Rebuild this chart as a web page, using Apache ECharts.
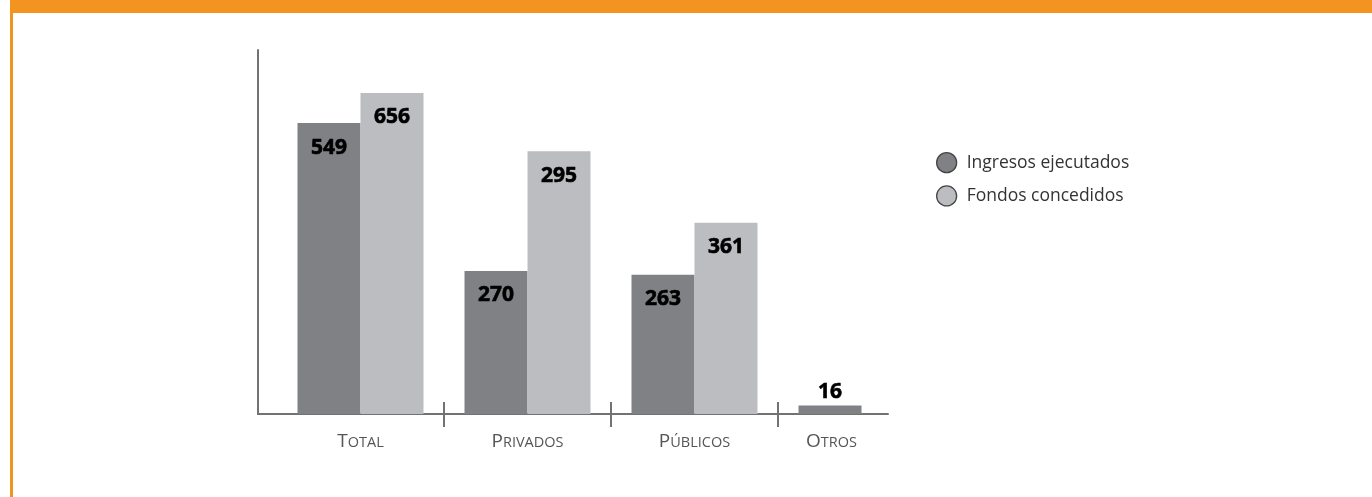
<!DOCTYPE html>
<html>
<head>
<meta charset="utf-8">
<script src="https://cdn.jsdelivr.net/npm/echarts@6/dist/echarts.min.js"></script>
<style>
  html, body { margin: 0; padding: 0; background: #fff; }
  #frame { position: absolute; left: 10px; top: 0; width: 1359px; height: 484px;
           border-top: 13px solid #f39320; border-left: 3px solid #f39320; }
  #chart { position: absolute; left: 0; top: 0; width: 1372px; height: 497px; }
</style>
</head>
<body>
<div id="frame"></div>
<div id="chart"></div>
<script>
// ---- data ----
const categories = ['Total', 'Privados', 'Públicos', 'Otros'];
const seriesNames = ['Ingresos ejecutados', 'Fondos concedidos'];
// printed values (labels)
const ingresosLabels = [549, 270, 263, 16];
const fondosLabels = [656, 295, 361, null];
// bar lengths as drawn in the reference
const ingresosBars = [549, 270, 263, 16];
const fondosBars = [606, 496, 361, null];
const yMax = 687;

// ---- layout ----
const gridLeft = 277, bandW = 167, nCat = categories.length;
const gridTop = 50, baseY = 414;
const axisStart = 258, axisEnd = 888;
const tickPos = [];
for (let k = 1; k < nCat; k++) tickPos.push(gridLeft + k * bandW - axisStart);

const darkC = '#808185', lightC = '#bcbdc1', axisC = '#727272';

const chart = echarts.init(document.getElementById('chart'), null, { renderer: 'canvas' });

function mkData(bars) {
  return bars.map(v => {
    if (v === null) return null;
    if (v < 100) return { value: v, label: { position: 'top', distance: 3 } };
    return v;
  });
}

const labelStyle = (arr) => ({
  show: true,
  position: 'insideTop',
  distance: 14,
  fontFamily: 'Open Sans',
  fontWeight: 'bold',
  fontSize: 21,
  color: '#000',
  textBorderColor: '#000',
  textBorderWidth: 0.6,
  formatter: p => arr[p.dataIndex]
});

chart.setOption({
  animation: false,
  textStyle: { fontFamily: 'Open Sans' },
  grid: [
    { left: gridLeft, width: bandW * nCat, top: gridTop, height: baseY - gridTop },
    { left: axisStart, width: axisEnd - axisStart, top: gridTop, height: baseY - gridTop }
  ],
  legend: {
    orient: 'vertical',
    left: 931, top: 147,
    itemWidth: 20, itemHeight: 20, itemGap: 12,
    icon: 'circle',
    data: seriesNames,
    itemStyle: { borderColor: '#444', borderWidth: 1.3 },
    textStyle: { fontFamily: 'Open Sans', fontSize: 17.5, color: '#333', padding: [0, 0, 0, 5] }
  },
  xAxis: [
    {
      type: 'category', gridIndex: 0,
      data: categories.map((c, i) => i === nCat - 1 ? { value: c, textStyle: { padding: [0, 60, 0, 0] } } : c),
      axisLine: { show: false }, axisTick: { show: false },
      axisLabel: {
        margin: 18,
        formatter: v => '{b|' + v.charAt(0).toUpperCase() + '}{s|' + v.slice(1).toUpperCase() + '}',
        rich: {
          b: { fontFamily: 'Open Sans', fontSize: 19, color: '#555', verticalAlign: 'bottom' },
          s: { fontFamily: 'Open Sans', fontSize: 14.5, color: '#555', verticalAlign: 'bottom', padding: [0, 0, 1, 0] }
        }
      }
    },
    {
      type: 'value', gridIndex: 1, position: 'bottom', min: 0, max: axisEnd - axisStart,
      axisLine: { show: true, lineStyle: { color: axisC, width: 2 } },
      axisTick: { show: true, customValues: tickPos, length: 13, lineStyle: { color: axisC, width: 2 } },
      axisLabel: { show: false }, splitLine: { show: false }
    },
    {
      type: 'value', gridIndex: 1, position: 'bottom', min: 0, max: axisEnd - axisStart,
      axisLine: { show: false },
      axisTick: { show: true, inside: true, customValues: tickPos, length: 12, lineStyle: { color: axisC, width: 2 } },
      axisLabel: { show: false }, splitLine: { show: false }
    }
  ],
  yAxis: [
    {
      type: 'value', gridIndex: 0, min: 0, max: yMax, offset: gridLeft - axisStart,
      axisLine: { show: true, lineStyle: { color: axisC, width: 2 } },
      axisTick: { show: false }, axisLabel: { show: false }, splitLine: { show: false }
    },
    {
      type: 'value', gridIndex: 1, min: 0, max: 1, show: false
    }
  ],
  series: [
    {
      name: seriesNames[0], type: 'bar', xAxisIndex: 0, yAxisIndex: 0,
      barWidth: 63, barGap: '0%',
      itemStyle: { color: darkC },
      label: labelStyle(ingresosLabels),
      data: mkData(ingresosBars)
    },
    {
      name: seriesNames[1], type: 'bar', xAxisIndex: 0, yAxisIndex: 0,
      barWidth: 63, barGap: '0%',
      itemStyle: { color: lightC },
      label: labelStyle(fondosLabels),
      data: mkData(fondosBars)
    }
  ]
});
</script>
</body>
</html>
